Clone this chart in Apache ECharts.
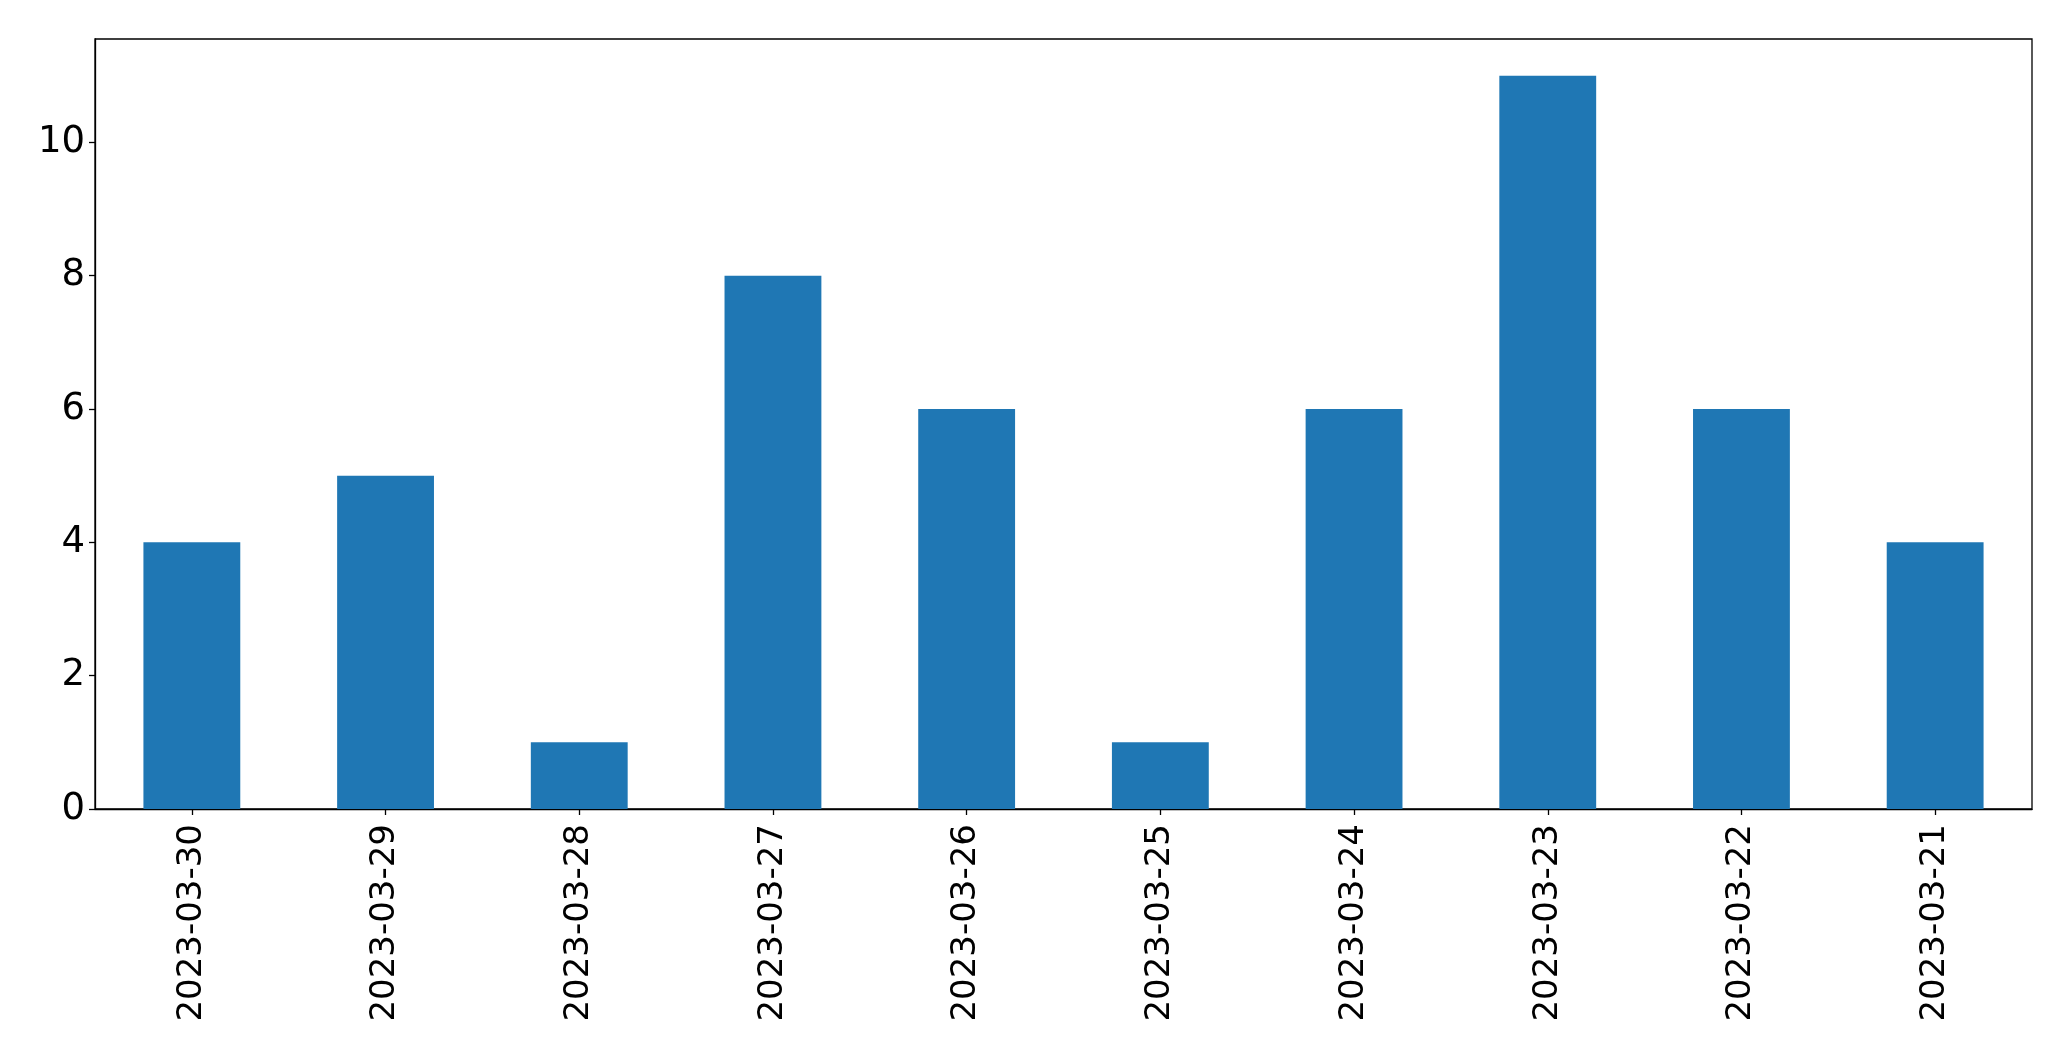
<!DOCTYPE html>
<html>
<head>
<meta charset="utf-8">
<script src="https://cdn.jsdelivr.net/npm/echarts@6/dist/echarts.min.js"></script>
<style>
html,body{margin:0;padding:0;background:#fff;}
#chart{width:2071px;height:1061px;}
</style>
</head>
<body>
<div id="chart"></div>
<script>
const categories = ['2023-03-30','2023-03-29','2023-03-28','2023-03-27','2023-03-26','2023-03-25','2023-03-24','2023-03-23','2023-03-22','2023-03-21'];
const values = [4, 5, 1, 8, 6, 1, 6, 11, 6, 4];
const yTicks = [0, 2, 4, 6, 8, 10];
const yMax = 11.55;

const chart = echarts.init(document.getElementById('chart'));
chart.setOption({
  animation: false,
  backgroundColor: '#fff',
  grid: {
    left: 95, top: 39, width: 1937, height: 770,
    show: true, borderColor: '#000', borderWidth: 1.3, containLabel: false
  },
  xAxis: {
    type: 'category',
    data: categories,
    boundaryGap: true,
    axisLine: { show: true, lineStyle: { color: '#000', width: 1.3 } },
    axisTick: { show: true, alignWithLabel: true, length: 6, lineStyle: { color: '#000', width: 1.3 } },
    axisLabel: {
      rotate: 90, margin: 15, color: '#000', fontSize: 34,
      fontFamily: 'DejaVu Sans', interval: 0
    },
    splitLine: { show: false }
  },
  yAxis: {
    type: 'value',
    min: 0, max: yMax,
    axisLine: { show: true, lineStyle: { color: '#000', width: 1.3 } },
    axisTick: { show: true, length: 6, customValues: yTicks, lineStyle: { color: '#000', width: 1.3 } },
    axisLabel: { margin: 10, color: '#000', fontSize: 37, fontFamily: 'DejaVu Sans', customValues: yTicks },
    splitLine: { show: false }
  },
  series: [{
    type: 'bar',
    data: values,
    barWidth: '50%',
    itemStyle: { color: '#1f77b4' }
  }]
});
</script>
</body>
</html>
